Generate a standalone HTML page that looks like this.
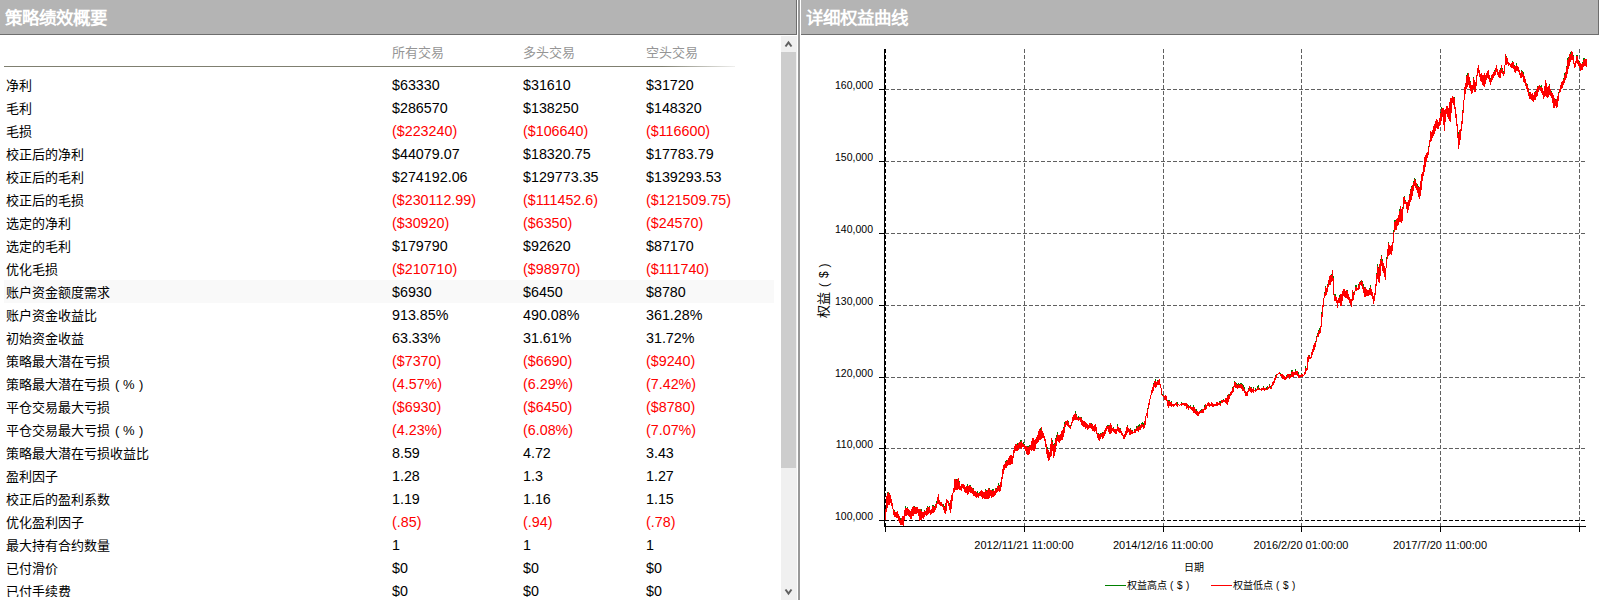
<!DOCTYPE html>
<html lang="zh-CN"><head><meta charset="utf-8"><title>策略绩效</title>
<style>
*{margin:0;padding:0;box-sizing:border-box}
html,body{width:1600px;height:600px;overflow:hidden;background:#fff}
body{position:relative;font-family:"Liberation Sans",sans-serif;color:#000}
.hdr{position:absolute;top:0;height:35px;background:#b4b4b4;border-right:1px solid #6e6e6e;border-bottom:1px solid #6e6e6e}
.hdr span{position:absolute;left:5px;top:6px;font-size:17.5px;line-height:24px;font-weight:bold;color:#fff;white-space:nowrap}
.divider{position:absolute;left:798px;top:0;width:2px;height:600px;background:#999}
.colh{position:absolute;top:44px;font-size:13px;line-height:18px;color:#959595;white-space:nowrap}
.hline{position:absolute;left:4px;top:66px;width:731px;height:1px;background:linear-gradient(to right,#7f7f70 0,#7f7f70 90%,rgba(127,127,112,0.12) 100%)}
.r{position:absolute;left:0;width:780px;height:23px}
.r.hl{left:4px;width:770px;background:#f9f9f9}
.lab{position:absolute;left:6px;top:3px;font-size:13px;line-height:19px;white-space:nowrap}
.r.hl .lab{left:2px}
.lab i{position:absolute;top:0;font-style:normal}
.n{position:absolute;top:3px;font-size:14.3px;line-height:19px;white-space:nowrap}
.r.hl .n{margin-left:-4px}
.neg{color:#ff0000}
.sb{position:absolute;left:781px;top:36px;width:16px;height:564px;background:#f0f0f0}
.thumb{position:absolute;left:781px;top:52px;width:15px;height:416px;background:#cdcdcd}
.chart{position:absolute;left:0;top:0}
.yl{position:absolute;left:800px;width:73px;text-align:right;font-size:10.5px;line-height:14px;color:#000;white-space:nowrap}
.xl{position:absolute;top:538px;width:120px;text-align:center;font-size:11px;line-height:14px;white-space:nowrap}
.ytitle{position:absolute;left:796px;top:282px;width:56px;height:16px;font-size:12px;line-height:16px;transform:rotate(-90deg);white-space:nowrap}
.ytitle span{position:absolute;top:0}
.ytitle .p{font-size:12px}
.xtitle{position:absolute;left:1183.5px;top:561px;font-size:10px;line-height:14px}
.leg{position:absolute;top:579px;font-size:10px;line-height:14px;white-space:nowrap}
</style></head><body>
<div class="hdr" style="left:0;width:797px"><span>策略绩效概要</span></div>
<div class="hdr" style="left:801px;width:798px"><span>详细权益曲线</span></div>
<div class="divider"></div>
<div class="colh" style="left:392px">所有交易</div>
<div class="colh" style="left:523px">多头交易</div>
<div class="colh" style="left:646px">空头交易</div>
<div class="hline"></div>
<div class="r" style="top:73px"><span class="lab">净利</span><span class="n" style="left:392px">$63330</span><span class="n" style="left:523px">$31610</span><span class="n" style="left:646px">$31720</span></div><div class="r" style="top:96px"><span class="lab">毛利</span><span class="n" style="left:392px">$286570</span><span class="n" style="left:523px">$138250</span><span class="n" style="left:646px">$148320</span></div><div class="r" style="top:119px"><span class="lab">毛损</span><span class="n neg" style="left:392px">($223240)</span><span class="n neg" style="left:523px">($106640)</span><span class="n neg" style="left:646px">($116600)</span></div><div class="r" style="top:142px"><span class="lab">校正后的净利</span><span class="n" style="left:392px">$44079.07</span><span class="n" style="left:523px">$18320.75</span><span class="n" style="left:646px">$17783.79</span></div><div class="r" style="top:165px"><span class="lab">校正后的毛利</span><span class="n" style="left:392px">$274192.06</span><span class="n" style="left:523px">$129773.35</span><span class="n" style="left:646px">$139293.53</span></div><div class="r" style="top:188px"><span class="lab">校正后的毛损</span><span class="n neg" style="left:392px">($230112.99)</span><span class="n neg" style="left:523px">($111452.6)</span><span class="n neg" style="left:646px">($121509.75)</span></div><div class="r" style="top:211px"><span class="lab">选定的净利</span><span class="n neg" style="left:392px">($30920)</span><span class="n neg" style="left:523px">($6350)</span><span class="n neg" style="left:646px">($24570)</span></div><div class="r" style="top:234px"><span class="lab">选定的毛利</span><span class="n" style="left:392px">$179790</span><span class="n" style="left:523px">$92620</span><span class="n" style="left:646px">$87170</span></div><div class="r" style="top:257px"><span class="lab">优化毛损</span><span class="n neg" style="left:392px">($210710)</span><span class="n neg" style="left:523px">($98970)</span><span class="n neg" style="left:646px">($111740)</span></div><div class="r hl" style="top:280px"><span class="lab">账户资金额度需求</span><span class="n" style="left:392px">$6930</span><span class="n" style="left:523px">$6450</span><span class="n" style="left:646px">$8780</span></div><div class="r" style="top:303px"><span class="lab">账户资金收益比</span><span class="n" style="left:392px">913.85%</span><span class="n" style="left:523px">490.08%</span><span class="n" style="left:646px">361.28%</span></div><div class="r" style="top:326px"><span class="lab">初始资金收益</span><span class="n" style="left:392px">63.33%</span><span class="n" style="left:523px">31.61%</span><span class="n" style="left:646px">31.72%</span></div><div class="r" style="top:349px"><span class="lab">策略最大潜在亏损</span><span class="n neg" style="left:392px">($7370)</span><span class="n neg" style="left:523px">($6690)</span><span class="n neg" style="left:646px">($9240)</span></div><div class="r" style="top:372px"><span class="lab">策略最大潜在亏损<i style="left:109px">(</i><i style="left:117px">%</i><i style="left:133px">)</i></span><span class="n neg" style="left:392px">(4.57%)</span><span class="n neg" style="left:523px">(6.29%)</span><span class="n neg" style="left:646px">(7.42%)</span></div><div class="r" style="top:395px"><span class="lab">平仓交易最大亏损</span><span class="n neg" style="left:392px">($6930)</span><span class="n neg" style="left:523px">($6450)</span><span class="n neg" style="left:646px">($8780)</span></div><div class="r" style="top:418px"><span class="lab">平仓交易最大亏损<i style="left:109px">(</i><i style="left:117px">%</i><i style="left:133px">)</i></span><span class="n neg" style="left:392px">(4.23%)</span><span class="n neg" style="left:523px">(6.08%)</span><span class="n neg" style="left:646px">(7.07%)</span></div><div class="r" style="top:441px"><span class="lab">策略最大潜在亏损收益比</span><span class="n" style="left:392px">8.59</span><span class="n" style="left:523px">4.72</span><span class="n" style="left:646px">3.43</span></div><div class="r" style="top:464px"><span class="lab">盈利因子</span><span class="n" style="left:392px">1.28</span><span class="n" style="left:523px">1.3</span><span class="n" style="left:646px">1.27</span></div><div class="r" style="top:487px"><span class="lab">校正后的盈利系数</span><span class="n" style="left:392px">1.19</span><span class="n" style="left:523px">1.16</span><span class="n" style="left:646px">1.15</span></div><div class="r" style="top:510px"><span class="lab">优化盈利因子</span><span class="n neg" style="left:392px">(.85)</span><span class="n neg" style="left:523px">(.94)</span><span class="n neg" style="left:646px">(.78)</span></div><div class="r" style="top:533px"><span class="lab">最大持有合约数量</span><span class="n" style="left:392px">1</span><span class="n" style="left:523px">1</span><span class="n" style="left:646px">1</span></div><div class="r" style="top:556px"><span class="lab">已付滑价</span><span class="n" style="left:392px">$0</span><span class="n" style="left:523px">$0</span><span class="n" style="left:646px">$0</span></div><div class="r" style="top:579px"><span class="lab">已付手续费</span><span class="n" style="left:392px">$0</span><span class="n" style="left:523px">$0</span><span class="n" style="left:646px">$0</span></div>
<div style="position:absolute;left:0;top:597px;width:780px;height:3px;background:#fff"></div>
<div class="sb"></div>
<div class="thumb"></div>
<svg style="position:absolute;left:0;top:0" width="800" height="600"><g fill="none" stroke="#606060" stroke-width="2"><polyline points="785.5,46.5 788.5,42.5 791.5,46.5"/><polyline points="785.5,589.5 788.5,593.5 791.5,589.5"/></g></svg>
<svg class="chart" width="1600" height="600" viewBox="0 0 1600 600"><g shape-rendering="crispEdges"><line x1="885" y1="89.5" x2="1586" y2="89.5" stroke="#606060" stroke-dasharray="4 2"/><line x1="885" y1="161.5" x2="1586" y2="161.5" stroke="#606060" stroke-dasharray="4 2"/><line x1="885" y1="233.5" x2="1586" y2="233.5" stroke="#606060" stroke-dasharray="4 2"/><line x1="885" y1="305.5" x2="1586" y2="305.5" stroke="#606060" stroke-dasharray="4 2"/><line x1="885" y1="377.5" x2="1586" y2="377.5" stroke="#606060" stroke-dasharray="4 2"/><line x1="885" y1="448.5" x2="1586" y2="448.5" stroke="#606060" stroke-dasharray="4 2"/><line x1="885" y1="520.5" x2="1586" y2="520.5" stroke="#000" stroke-dasharray="4 2"/><line x1="1024.5" y1="49" x2="1024.5" y2="526" stroke="#606060" stroke-dasharray="4 2"/><line x1="1163.5" y1="49" x2="1163.5" y2="526" stroke="#606060" stroke-dasharray="4 2"/><line x1="1301.5" y1="49" x2="1301.5" y2="526" stroke="#606060" stroke-dasharray="4 2"/><line x1="1440.5" y1="49" x2="1440.5" y2="526" stroke="#606060" stroke-dasharray="4 2"/><line x1="1579.5" y1="49" x2="1579.5" y2="526" stroke="#606060" stroke-dasharray="4 2"/><line x1="885.5" y1="49" x2="885.5" y2="526" stroke="#000" stroke-dasharray="4 2"/></g><path shape-rendering="crispEdges" fill="none" stroke="#008000" d="M887.5 492V493M889.5 493V494M894.5 510V511M900.5 518V520M905.5 506V508M907.5 507V508M914.5 506V507M921.5 509V511M924.5 510V511M926.5 508V509M927.5 506V507M929.5 506V507M932.5 505V506M933.5 505V506M934.5 506V507M936.5 501V503M943.5 504V506M944.5 506V507M949.5 503V504M956.5 479V480M959.5 481V482M967.5 484V486M970.5 485V486M973.5 488V489M977.5 491V493M979.5 492V493M985.5 489V490M986.5 490V491M989.5 488V489M992.5 489V491M993.5 489V490M996.5 488V489M998.5 483V485M999.5 485V486M1005.5 461V462M1006.5 460V461M1017.5 443V445M1020.5 440V442M1021.5 440V441M1023.5 442V444M1024.5 444V445M1027.5 446V447M1028.5 446V447M1029.5 445V446M1040.5 428V430M1047.5 447V449M1052.5 440V442M1053.5 444V445M1054.5 443V444M1055.5 438V439M1056.5 435V437M1057.5 432V434M1063.5 427V428M1064.5 422V424M1068.5 421V422M1070.5 425V426M1075.5 411V413M1076.5 414V415M1078.5 416V418M1081.5 417V418M1091.5 423V424M1098.5 433V434M1100.5 433V434M1102.5 432V433M1107.5 425V426M1108.5 425V426M1113.5 427V428M1117.5 424V426M1120.5 428V429M1127.5 425V426M1130.5 428V429M1132.5 430V431M1134.5 429V430M1136.5 426V428M1138.5 425V427M1139.5 424V426M1141.5 423V424M1142.5 422V424M1143.5 423V425M1147.5 408V409M1153.5 383V384M1155.5 379V381M1157.5 380V381M1162.5 394V395M1168.5 400V401M1169.5 400V401M1171.5 401V402M1177.5 402V404M1181.5 402V403M1188.5 405V406M1190.5 405V406M1193.5 405V407M1196.5 409V411M1200.5 410V411M1201.5 409V410M1204.5 405V407M1219.5 401V402M1220.5 401V403M1223.5 399V400M1227.5 395V396M1229.5 394V395M1232.5 387V388M1234.5 381V382M1236.5 383V384M1237.5 384V385M1238.5 383V384M1239.5 384V385M1240.5 383V384M1241.5 383V384M1242.5 384V385M1243.5 385V387M1244.5 387V389M1248.5 388V389M1251.5 387V388M1253.5 387V388M1255.5 388V390M1257.5 386V388M1258.5 385V387M1259.5 388V389M1263.5 386V387M1266.5 387V389M1267.5 386V387M1269.5 384V385M1270.5 386V387M1275.5 375V376M1280.5 373V374M1286.5 375V376M1290.5 374V375M1291.5 370V372M1292.5 370V371M1295.5 369V371M1298.5 372V374M1301.5 373V374M1305.5 366V368M1309.5 355V356M1315.5 341V342M1316.5 336V337M1317.5 333V334M1318.5 330V331M1319.5 328V330M1321.5 312V314M1324.5 292V293M1325.5 286V287M1327.5 284V285M1331.5 274V275M1333.5 276V278M1334.5 294V295M1335.5 294V296M1339.5 295V297M1347.5 290V291M1353.5 292V293M1355.5 285V287M1356.5 285V287M1358.5 284V285M1360.5 281V282M1362.5 281V282M1363.5 284V286M1364.5 287V288M1369.5 288V289M1370.5 285V287M1376.5 273V274M1377.5 264V266M1378.5 267V268M1380.5 259V260M1381.5 255V256M1382.5 259V261M1386.5 257V259M1388.5 242V243M1393.5 230V232M1394.5 220V222M1395.5 220V221M1399.5 209V211M1402.5 207V208M1404.5 196V197M1405.5 200V201M1409.5 194V195M1410.5 189V190M1411.5 186V187M1413.5 181V182M1414.5 178V179M1415.5 179V180M1417.5 184V186M1418.5 186V187M1428.5 146V147M1440.5 112V113M1441.5 107V109M1454.5 97V98M1458.5 132V134M1462.5 110V111M1466.5 75V76M1467.5 73V75M1470.5 81V82M1473.5 77V78M1490.5 78V79M1494.5 70V71M1500.5 68V70M1502.5 68V69M1503.5 71V72M1506.5 56V57M1512.5 61V62M1514.5 65V66M1516.5 63V65M1521.5 70V71M1522.5 71V72M1523.5 72V74M1527.5 84V85M1529.5 92V93M1535.5 91V92M1537.5 86V87M1540.5 86V87M1541.5 85V87M1549.5 84V85M1551.5 91V92M1555.5 99V100M1558.5 92V93M1563.5 78V79M1564.5 73V75M1566.5 66V67M1567.5 58V60M1568.5 57V58M1570.5 52V54M1573.5 55V56M1576.5 55V56M1577.5 55V56M1579.5 61V62M1582.5 62V63M1583.5 58V60M1584.5 58V59"/><path shape-rendering="crispEdges" fill="none" stroke="#ff0000" d="M885.5 509V520M886.5 496V512M887.5 493V508M888.5 492V505M889.5 494V505M890.5 495V503M891.5 499V506M892.5 503V509M893.5 509V515M894.5 511V517M895.5 512V517M896.5 512V518M897.5 511V518M898.5 514V521M899.5 516V523M900.5 520V525M901.5 518V525M902.5 516V525M903.5 516V526M904.5 510V520M905.5 508V516M906.5 508V516M907.5 508V515M908.5 509V516M909.5 510V517M910.5 511V519M911.5 509V519M912.5 507V516M913.5 506V516M914.5 507V514M915.5 507V514M916.5 507V514M917.5 507V513M918.5 509V516M919.5 509V521M920.5 509V520M921.5 511V520M922.5 512V518M923.5 512V519M924.5 511V517M925.5 511V515M926.5 509V516M927.5 507V515M928.5 507V514M929.5 507V513M930.5 510V515M931.5 509V514M932.5 506V513M933.5 506V513M934.5 507V512M935.5 504V510M936.5 503V508M937.5 497V504M938.5 494V504M939.5 500V505M940.5 502V506M941.5 502V506M942.5 504V507M943.5 506V510M944.5 507V513M945.5 503V514M946.5 499V511M947.5 500V503M948.5 501V506M949.5 504V510M950.5 500V513M951.5 495V509M952.5 493V501M953.5 488V493M954.5 479V492M955.5 479V490M956.5 480V490M957.5 479V490M958.5 478V489M959.5 482V490M960.5 486V490M961.5 484V491M962.5 484V488M963.5 484V489M964.5 485V492M965.5 487V493M966.5 486V493M967.5 486V495M968.5 486V494M969.5 485V492M970.5 486V493M971.5 487V493M972.5 488V494M973.5 489V496M974.5 491V496M975.5 491V497M976.5 492V498M977.5 493V497M978.5 493V498M979.5 493V496M980.5 491V496M981.5 490V497M982.5 491V499M983.5 492V498M984.5 492V499M985.5 490V499M986.5 491V499M987.5 490V499M988.5 488V499M989.5 489V498M990.5 490V496M991.5 490V498M992.5 491V497M993.5 490V497M994.5 491V496M995.5 488V495M996.5 489V493M997.5 486V492M998.5 485V491M999.5 486V492M1000.5 482V491M1001.5 477V487M1002.5 469V479M1003.5 465V474M1004.5 464V470M1005.5 462V468M1006.5 461V468M1007.5 460V466M1008.5 458V465M1009.5 456V465M1010.5 455V465M1011.5 455V464M1012.5 456V464M1013.5 450V458M1014.5 446V453M1015.5 444V451M1016.5 444V451M1017.5 445V451M1018.5 443V450M1019.5 442V448M1020.5 442V448M1021.5 441V449M1022.5 443V447M1023.5 444V447M1024.5 445V449M1025.5 446V451M1026.5 446V454M1027.5 447V455M1028.5 447V455M1029.5 446V454M1030.5 445V450M1031.5 441V451M1032.5 438V450M1033.5 438V451M1034.5 440V451M1035.5 439V449M1036.5 437V444M1037.5 435V443M1038.5 431V442M1039.5 429V440M1040.5 430V440M1041.5 427V439M1042.5 431V438M1043.5 433V438M1044.5 436V441M1045.5 439V447M1046.5 444V454M1047.5 449V458M1048.5 450V461M1049.5 452V460M1050.5 444V457M1051.5 438V456M1052.5 442V451M1053.5 445V458M1054.5 444V456M1055.5 439V452M1056.5 437V446M1057.5 434V441M1058.5 435V442M1059.5 435V443M1060.5 434V441M1061.5 431V440M1062.5 430V440M1063.5 428V437M1064.5 424V433M1065.5 421V427M1066.5 421V425M1067.5 420V426M1068.5 422V427M1069.5 425V428M1070.5 426V429M1071.5 422V426M1072.5 417V423M1073.5 415V421M1074.5 414V420M1075.5 413V420M1076.5 415V420M1077.5 417V420M1078.5 418V421M1079.5 417V420M1080.5 417V422M1081.5 418V425M1082.5 420V426M1083.5 421V427M1084.5 421V427M1085.5 422V429M1086.5 423V428M1087.5 424V430M1088.5 425V429M1089.5 423V428M1090.5 423V428M1091.5 424V429M1092.5 424V431M1093.5 426V431M1094.5 425V432M1095.5 424V431M1096.5 427V434M1097.5 433V438M1098.5 434V440M1099.5 434V441M1100.5 434V439M1101.5 433V437M1102.5 433V439M1103.5 432V438M1104.5 430V436M1105.5 428V434M1106.5 426V431M1107.5 426V429M1108.5 426V432M1109.5 425V434M1110.5 423V434M1111.5 425V433M1112.5 428V431M1113.5 428V432M1114.5 429V433M1115.5 429V434M1116.5 429V434M1117.5 426V431M1118.5 427V432M1119.5 428V433M1120.5 429V433M1121.5 431V435M1122.5 433V436M1123.5 435V439M1124.5 434V439M1125.5 431V437M1126.5 427V435M1127.5 426V433M1128.5 428V432M1129.5 429V435M1130.5 429V435M1131.5 430V434M1132.5 431V434M1133.5 432V433M1134.5 430V433M1135.5 429V433M1136.5 428V431M1137.5 426V431M1138.5 427V432M1139.5 426V430M1140.5 425V430M1141.5 424V428M1142.5 424V427M1143.5 425V429M1144.5 421V428M1145.5 416V425M1146.5 413V416M1147.5 409V418M1148.5 403V409M1149.5 399V405M1150.5 395V399M1151.5 390V395M1152.5 387V393M1153.5 384V391M1154.5 381V387M1155.5 381V388M1156.5 382V387M1157.5 381V385M1158.5 380V385M1159.5 379V385M1160.5 384V388M1161.5 388V395M1162.5 395V396M1163.5 395V397M1164.5 396V400M1165.5 395V400M1166.5 396V401M1167.5 400V406M1168.5 401V408M1169.5 401V406M1170.5 402V406M1171.5 402V407M1172.5 404V406M1173.5 404V407M1174.5 404V406M1175.5 403V405M1176.5 402V406M1177.5 404V407M1178.5 404V405M1179.5 405V406M1180.5 404V405M1181.5 403V406M1182.5 403V405M1183.5 403V405M1184.5 403V406M1185.5 403V406M1186.5 403V409M1187.5 404V408M1188.5 406V410M1189.5 406V408M1190.5 406V409M1191.5 407V410M1192.5 407V411M1193.5 407V413M1194.5 407V413M1195.5 409V414M1196.5 411V415M1197.5 411V416M1198.5 412V416M1199.5 411V414M1200.5 411V413M1201.5 410V413M1202.5 409V413M1203.5 409V413M1204.5 407V410M1205.5 404V410M1206.5 405V409M1207.5 403V406M1208.5 402V406M1209.5 403V407M1210.5 404V406M1211.5 402V406M1212.5 403V407M1213.5 404V407M1214.5 404V406M1215.5 404V406M1216.5 402V406M1217.5 402V406M1218.5 403V405M1219.5 402V405M1220.5 403V406M1221.5 400V403M1222.5 400V403M1223.5 400V402M1224.5 400V402M1225.5 398V403M1226.5 398V404M1227.5 396V405M1228.5 394V402M1229.5 395V399M1230.5 392V396M1231.5 391V395M1232.5 388V393M1233.5 386V392M1234.5 382V387M1235.5 382V388M1236.5 384V388M1237.5 385V389M1238.5 384V388M1239.5 385V388M1240.5 384V388M1241.5 384V389M1242.5 385V391M1243.5 387V391M1244.5 389V393M1245.5 391V396M1246.5 392V396M1247.5 391V396M1248.5 389V392M1249.5 386V391M1250.5 387V392M1251.5 388V393M1252.5 389V392M1253.5 388V393M1254.5 390V391M1255.5 390V392M1256.5 389V391M1257.5 388V390M1258.5 387V390M1259.5 389V390M1260.5 389V390M1261.5 388V391M1262.5 388V390M1263.5 387V390M1264.5 388V391M1265.5 388V390M1266.5 389V390M1267.5 387V390M1268.5 387V389M1269.5 385V388M1270.5 387V389M1271.5 385V389M1272.5 382V386M1273.5 381V385M1274.5 378V383M1275.5 376V380M1276.5 374V378M1277.5 374V375M1278.5 373V374M1279.5 372V374M1280.5 374V376M1281.5 374V377M1282.5 374V379M1283.5 375V379M1284.5 376V380M1285.5 377V380M1286.5 376V379M1287.5 374V378M1288.5 374V377M1289.5 374V379M1290.5 375V378M1291.5 372V377M1292.5 371V377M1293.5 372V377M1294.5 372V375M1295.5 371V375M1296.5 371V375M1297.5 371V376M1298.5 374V378M1299.5 375V378M1300.5 375V377M1301.5 374V377M1302.5 374V377M1303.5 375V376M1304.5 372V375M1305.5 368V374M1306.5 368V371M1307.5 357V370M1308.5 355V362M1309.5 356V359M1310.5 357V359M1311.5 352V358M1312.5 349V355M1313.5 345V352M1314.5 343V350M1315.5 342V347M1316.5 337V342M1317.5 334V337M1318.5 331V337M1319.5 330V334M1320.5 326V333M1321.5 314V327M1322.5 305V317M1323.5 298V307M1324.5 293V298M1325.5 287V296M1326.5 288V295M1327.5 285V292M1328.5 280V287M1329.5 276V285M1330.5 275V285M1331.5 275V282M1332.5 270V281M1333.5 278V295M1334.5 295V301M1335.5 296V301M1336.5 297V303M1337.5 300V308M1338.5 298V303M1339.5 297V303M1340.5 294V306M1341.5 294V306M1342.5 291V301M1343.5 289V296M1344.5 289V297M1345.5 291V298M1346.5 290V298M1347.5 291V299M1348.5 294V300M1349.5 297V303M1350.5 299V305M1351.5 299V307M1352.5 290V301M1353.5 293V300M1354.5 291V295M1355.5 287V291M1356.5 287V291M1357.5 288V290M1358.5 285V290M1359.5 282V289M1360.5 282V285M1361.5 280V286M1362.5 282V289M1363.5 286V293M1364.5 288V297M1365.5 287V297M1366.5 289V296M1367.5 290V296M1368.5 290V296M1369.5 289V295M1370.5 287V295M1371.5 289V296M1372.5 292V299M1373.5 296V304M1374.5 293V301M1375.5 284V295M1376.5 274V286M1377.5 266V279M1378.5 268V282M1379.5 264V283M1380.5 260V276M1381.5 256V266M1382.5 261V271M1383.5 263V273M1384.5 266V277M1385.5 268V280M1386.5 259V268M1387.5 249V259M1388.5 243V256M1389.5 245V255M1390.5 246V254M1391.5 245V255M1392.5 242V251M1393.5 232V243M1394.5 222V232M1395.5 221V230M1396.5 219V230M1397.5 218V226M1398.5 215V225M1399.5 211V222M1400.5 206V222M1401.5 209V223M1402.5 208V221M1403.5 197V209M1404.5 197V204M1405.5 201V204M1406.5 202V209M1407.5 202V213M1408.5 200V210M1409.5 195V206M1410.5 190V202M1411.5 187V200M1412.5 185V196M1413.5 182V191M1414.5 179V186M1415.5 180V188M1416.5 183V190M1417.5 186V193M1418.5 187V197M1419.5 187V199M1420.5 181V196M1421.5 174V190M1422.5 172V181M1423.5 165V176M1424.5 157V172M1425.5 155V167M1426.5 153V162M1427.5 152V158M1428.5 147V155M1429.5 140V147M1430.5 131V142M1431.5 132V141M1432.5 130V138M1433.5 126V136M1434.5 124V134M1435.5 121V131M1436.5 119V128M1437.5 120V129M1438.5 122V129M1439.5 118V126M1440.5 113V125M1441.5 109V121M1442.5 108V117M1443.5 108V125M1444.5 110V131M1445.5 109V122M1446.5 106V114M1447.5 106V117M1448.5 108V119M1449.5 102V121M1450.5 98V122M1451.5 98V113M1452.5 96V103M1453.5 97V105M1454.5 98V109M1455.5 107V118M1456.5 114V126M1457.5 124V138M1458.5 134V149M1459.5 130V145M1460.5 129V140M1461.5 121V131M1462.5 111V124M1463.5 100V113M1464.5 87V100M1465.5 83V94M1466.5 76V89M1467.5 75V87M1468.5 73V85M1469.5 77V88M1470.5 82V91M1471.5 85V94M1472.5 85V93M1473.5 78V89M1474.5 80V92M1475.5 82V92M1476.5 75V86M1477.5 68V76M1478.5 65V73M1479.5 70V77M1480.5 74V81M1481.5 73V82M1482.5 75V85M1483.5 75V86M1484.5 73V87M1485.5 75V84M1486.5 73V80M1487.5 71V78M1488.5 70V79M1489.5 75V82M1490.5 79V85M1491.5 75V82M1492.5 74V80M1493.5 72V78M1494.5 71V76M1495.5 68V75M1496.5 65V72M1497.5 69V75M1498.5 72V77M1499.5 70V78M1500.5 70V78M1501.5 65V73M1502.5 69V74M1503.5 72V76M1504.5 65V74M1505.5 54V65M1506.5 57V65M1507.5 58V64M1508.5 62V66M1509.5 63V65M1510.5 64V67M1511.5 63V68M1512.5 62V68M1513.5 62V69M1514.5 66V72M1515.5 66V73M1516.5 65V71M1517.5 66V71M1518.5 67V72M1519.5 70V75M1520.5 73V78M1521.5 71V78M1522.5 72V77M1523.5 74V82M1524.5 76V83M1525.5 79V86M1526.5 83V89M1527.5 85V92M1528.5 88V96M1529.5 93V99M1530.5 92V99M1531.5 94V100M1532.5 93V101M1533.5 95V102M1534.5 92V100M1535.5 92V100M1536.5 89V97M1537.5 87V96M1538.5 86V92M1539.5 85V89M1540.5 87V91M1541.5 87V93M1542.5 88V95M1543.5 91V99M1544.5 86V97M1545.5 80V96M1546.5 83V97M1547.5 87V98M1548.5 86V97M1549.5 85V95M1550.5 89V96M1551.5 92V98M1552.5 93V103M1553.5 95V108M1554.5 98V108M1555.5 100V106M1556.5 99V108M1557.5 96V107M1558.5 93V101M1559.5 89V93M1560.5 85V92M1561.5 82V89M1562.5 81V88M1563.5 79V85M1564.5 75V83M1565.5 72V80M1566.5 67V78M1567.5 60V74M1568.5 58V69M1569.5 54V66M1570.5 54V62M1571.5 51V60M1572.5 52V60M1573.5 56V64M1574.5 63V68M1575.5 61V67M1576.5 56V63M1577.5 56V64M1578.5 60V66M1579.5 62V68M1580.5 63V71M1581.5 64V70M1582.5 63V70M1583.5 60V67M1584.5 59V66M1585.5 59V66M1586.5 59V67"/><g shape-rendering="crispEdges"><line x1="884.5" y1="49" x2="884.5" y2="527" stroke="#000"/><line x1="884" y1="526.5" x2="1586" y2="526.5" stroke="#000"/><line x1="879" y1="89.5" x2="884" y2="89.5" stroke="#000"/><line x1="879" y1="161.5" x2="884" y2="161.5" stroke="#000"/><line x1="879" y1="233.5" x2="884" y2="233.5" stroke="#000"/><line x1="879" y1="305.5" x2="884" y2="305.5" stroke="#000"/><line x1="879" y1="377.5" x2="884" y2="377.5" stroke="#000"/><line x1="879" y1="448.5" x2="884" y2="448.5" stroke="#000"/><line x1="879" y1="520.5" x2="884" y2="520.5" stroke="#000"/><line x1="885.5" y1="527" x2="885.5" y2="532" stroke="#000"/><line x1="1024.5" y1="527" x2="1024.5" y2="532" stroke="#000"/><line x1="1163.5" y1="527" x2="1163.5" y2="532" stroke="#000"/><line x1="1301.5" y1="527" x2="1301.5" y2="532" stroke="#000"/><line x1="1440.5" y1="527" x2="1440.5" y2="532" stroke="#000"/><line x1="1579.5" y1="527" x2="1579.5" y2="532" stroke="#000"/></g><g shape-rendering="crispEdges"><line x1="1105" y1="585.5" x2="1126" y2="585.5" stroke="#008000"/><line x1="1211" y1="585.5" x2="1232" y2="585.5" stroke="#ff0000"/></g></svg>
<div class="yl" style="top:78px">160,000</div><div class="yl" style="top:150px">150,000</div><div class="yl" style="top:222px">140,000</div><div class="yl" style="top:294px">130,000</div><div class="yl" style="top:366px">120,000</div><div class="yl" style="top:437px">110,000</div><div class="yl" style="top:509px">100,000</div>
<div class="xl" style="left:964px">2012/11/21 11:00:00</div><div class="xl" style="left:1103px">2014/12/16 11:00:00</div><div class="xl" style="left:1241px">2016/2/20 01:00:00</div><div class="xl" style="left:1380px">2017/7/20 11:00:00</div>
<div class="ytitle"><span style="left:0;font-size:13px">权益</span><span class="p" style="left:31px">(</span><span class="p" style="left:40px">$</span><span class="p" style="left:50.5px">)</span></div>
<div class="xtitle">日期</div>
<div class="leg" style="left:1127px">权益高点</div><div class="leg" style="left:1170px">(</div><div class="leg" style="left:1177px">$</div><div class="leg" style="left:1186px">)</div>
<div class="leg" style="left:1233px">权益低点</div><div class="leg" style="left:1276px">(</div><div class="leg" style="left:1283px">$</div><div class="leg" style="left:1292px">)</div>
</body></html>
